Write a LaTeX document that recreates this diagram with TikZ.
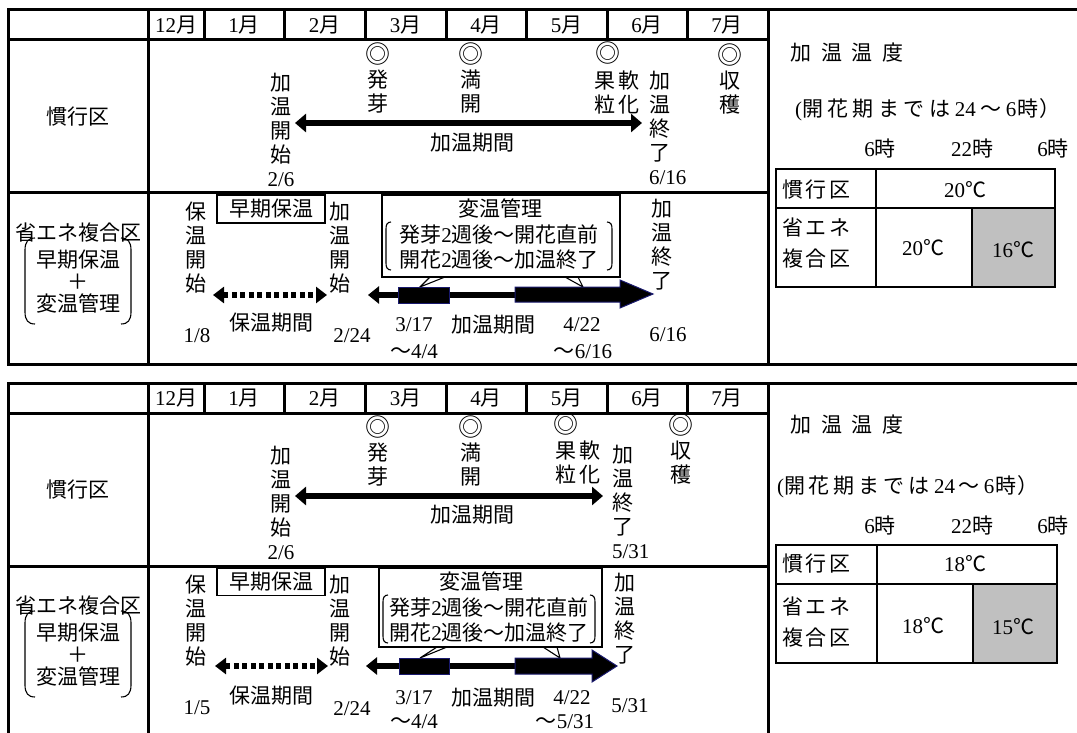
\documentclass[tikz,border=0pt]{standalone}
\usepackage{fontspec}
\setmainfont{Liberation Serif}
\newfontfamily\jp{Noto Sans CJK JP}
\usetikzlibrary{arrows.meta}
\newcommand\lat[1]{{\rmfamily #1}}
\newcommand\dcirc{{\fontsize{25}{24}\selectfont ◎}}
\definecolor{navy}{RGB}{25,25,110}
\definecolor{cellgray}{RGB}{192,192,192}
\tikzset{
  every node/.style={inner sep=0pt, outer sep=0pt},
  txt/.style={font=\fontsize{21}{24}\selectfont\jp, align=center},
  gridline/.style={line width=3pt},
  tblline/.style={line width=2.5pt},
  thinline/.style={line width=1.1pt},
  brk/.style={line width=1.1pt},
  solidarrow/.style={line width=6pt, {Triangle[length=11pt,width=18pt]}-{Triangle[length=11pt,width=18pt]}},
  dotarrow/.style={line width=6pt, dash pattern=on 5pt off 3.5pt, {Triangle[length=11pt,width=16pt]}-{Triangle[length=11pt,width=16pt]}},
  leftarrow/.style={line width=6pt, {Triangle[length=11pt,width=17pt]}-},
  boxbar/.style={fill=black, draw=navy, line width=1pt},
  framebox/.style={draw, line width=1.1pt},
}
\begin{document}
\begin{tikzpicture}[x=1pt, y=-1pt]
\useasboundingbox (0,0) rectangle (1077,733);
\clip (0,0) rectangle (1077,733);
% ================= TOP PANEL =================
\draw[gridline] (8,10) rectangle (768,364);
\draw[gridline] (8,40) -- (768,40) (8,193) -- (768,193) (148,10) -- (148,364);
\foreach \x in {204,284,365,446,526,607,687} {\draw[gridline] (\x,10) -- (\x,40);}
\draw[gridline] (768,10) -- (1077,10) (768,364) -- (1077,364);
\foreach \m/\x in {12/176,1/244,2/324.5,3/405.5,4/486,5/566.5,6/647,7/727}
  {\node[txt] (am\m) at (\x,25) {\lat{\m}月};}
% row 1
\node[txt] (akanko) at (78,117) {慣行区};
\node[txt] (akstart) at (281,130) {加\\温\\開\\始\\\lat{2/6}};
\node[txt] (ahatsuga) at (378,78) {\dcirc\\発\\芽};
\node[txt] (amankai) at (471,78) {\dcirc\\満\\開};
\node[txt] (amark) at (608,53) {\dcirc};
\node[txt] (anan) at (617,92) {果\kern4pt軟\\粒\kern4pt化};
\node[txt, align=left, anchor=west] (akend) at (649,128) {加\\温\\終\\了\\\lat{6/16}};
\node[txt] (ashukaku) at (730,79) {\dcirc\\収\\穫};
\coordinate (aal) at (295,123);
\coordinate (aar) at (642,123);
\draw[solidarrow] (aal) -- (aar);
\node[txt] (akikan) at (472,143) {加温期間};
% row 2
\node[txt] (asho) at (79,233) {省エネ複合区};
\node[txt, font=\fontsize{21}{22}\selectfont\jp] (asub) at (78,282) {早期保温\\＋\\変温管理};
\draw[brk] (35,238) .. controls (28,238) and (25,242) .. (25,250) -- (25,312) .. controls (25,320) and (28,324) .. (35,324);
\draw[brk] (121,238) .. controls (128,238) and (131,242) .. (131,250) -- (131,312) .. controls (131,320) and (128,324) .. (121,324);
\node[txt] (ahstart) at (196,248) {保\\温\\開\\始};
\node[txt, framebox, minimum width=108pt, minimum height=28pt] (asouki) at (271,209) {早期保温};
\node[txt] (akstart2) at (340,248) {加\\温\\開\\始};
\coordinate (adl) at (213,295);
\coordinate (adr) at (327,295);
\draw[dotarrow] (adl) -- (adr);
\node[txt] (ahkikan) at (271,323) {保温期間};
\node[txt] (ad18) at (197,336) {\lat{1/8}};
\node[txt] (ad224) at (352,336) {\lat{2/24}};
\node[framebox, minimum width=238pt, minimum height=82pt] (abox) at (501,236) {};
\node[txt] (ahenon) at (500,208) {変温管理};
\node[txt] (aline1) at (499,235) {発芽\lat{2}週後～開花直前};
\node[txt] (aline2) at (499,260) {開花\lat{2}週後～加温終了};
\draw[brk] (391,222) .. controls (387,222) and (386,225) .. (386,229) -- (386,263) .. controls (386,267) and (387,270) .. (391,270);
\draw[brk] (607,222) .. controls (611,222) and (612,225) .. (612,229) -- (612,263) .. controls (612,267) and (611,270) .. (607,270);
\coordinate (ap1) at (420,287);
\coordinate (ap2) at (583,287);
\draw[thinline] (430,277) -- (ap1) -- (445,277);
\draw[thinline] (565,277) -- (ap2) -- (578,277);
\coordinate (a2l) at (368,295);
\coordinate (a2r) at (620,295);
\draw[leftarrow] (a2l) -- (a2r);
\filldraw[boxbar] (398,287) rectangle (449,303);
\filldraw[boxbar] (515,287) -- (620,287) -- (620,280) -- (653,294) -- (620,308) -- (620,302) -- (515,302) -- cycle;
\node[txt, align=left, anchor=west] (akend2) at (651,245) {加\\温\\終\\了};
\node[txt] (ad317) at (414,325) {\lat{3/17}};
\node[txt] (akikan2) at (493,325) {加温期間};
\node[txt] (ad422) at (582,325) {\lat{4/22}};
\node[txt] (ad44) at (414,352) {～\lat{4/4}};
\node[txt] (ad616) at (583,352) {～\lat{6/16}};
\node[txt] (ae616) at (668,335) {\lat{6/16}};
% right panel
\node[txt, anchor=west] (akaon) at (790,53) {加\kern10pt温\kern10pt温\kern10pt度};
\node[txt, anchor=west] (ajoken) at (795,110) {\lat{(}開\kern4.5pt花\kern4.5pt期\kern4.5pt ま\kern4.5pt で\kern4.5pt は\kern4.5pt\lat{24}\kern4.5pt～\kern4.5pt\lat{6}\kern1pt時\kern1pt）};
\node[txt] (at6a) at (880,148) {\lat{6}時};
\node[txt] (at22) at (972,148) {\lat{22}時};
\node[txt] (at6b) at (1053,148) {\lat{6}時};
\fill[cellgray] (972,208) rectangle (1055,287);
\draw[tblline] (776,169) rectangle (1055,287);
\draw[tblline] (776,208) -- (1055,208) (876,169) -- (876,287) (972,208) -- (972,287);
\node[txt, anchor=west] (atk) at (782,190) {慣\kern2.5pt行\kern2.5pt区};
\node[txt] (at20) at (965,190) {\lat{20}℃};
\node[txt, anchor=west, align=left, font=\fontsize{21}{31}\selectfont\jp] (ats) at (782,243) {省\kern2.5ptエ\kern2.5ptネ\\複\kern2.5pt合\kern2.5pt区};
\node[txt] (at20b) at (923,248) {\lat{20}℃};
\node[txt] (at16) at (1013,250) {\lat{16}℃};
% ================= BOTTOM PANEL =================
\begin{scope}[shift={(0,373)}]
\draw[gridline] (8,375) -- (8,10) -- (768,10) -- (768,375);
\draw[gridline] (8,40) -- (768,40) (8,193) -- (768,193) (148,10) -- (148,375);
\foreach \x in {204,284,365,446,526,607,687} {\draw[gridline] (\x,10) -- (\x,40);}
\draw[gridline] (768,10) -- (1077,10);
\foreach \m/\x in {12/176,1/244,2/324.5,3/405.5,4/486,5/566.5,6/647,7/727}
  {\node[txt] (bm\m) at (\x,25) {\lat{\m}月};}
% row 1
\node[txt] (bkanko) at (78,117) {慣行区};
\node[txt] (bkstart) at (281,130) {加\\温\\開\\始\\\lat{2/6}};
\node[txt] (bhatsuga) at (378,78) {\dcirc\\発\\芽};
\node[txt] (bmankai) at (471,78) {\dcirc\\満\\開};
\node[txt] (bmark) at (566,51) {\dcirc};
\node[txt] (bnan) at (578,89) {果\kern3pt軟\\粒\kern3pt化};
\node[txt, align=left, anchor=west] (bkend) at (612,129) {加\\温\\終\\了\\\lat{5/31}};
\node[txt] (bshukaku) at (681,76) {\dcirc\\収\\穫};
\coordinate (bal) at (295,123);
\coordinate (bar) at (603,123);
\draw[solidarrow] (bal) -- (bar);
\node[txt] (bkikan) at (472,142) {加温期間};
% row 2
\node[txt] (bsho) at (79,233) {省エネ複合区};
\node[txt, font=\fontsize{21}{22}\selectfont\jp] (bsub) at (78,282) {早期保温\\＋\\変温管理};
\draw[brk] (35,238) .. controls (28,238) and (25,242) .. (25,250) -- (25,312) .. controls (25,320) and (28,324) .. (35,324);
\draw[brk] (121,238) .. controls (128,238) and (131,242) .. (131,250) -- (131,312) .. controls (131,320) and (128,324) .. (121,324);
\node[txt] (bhstart) at (196,248) {保\\温\\開\\始};
\node[txt, framebox, minimum width=108pt, minimum height=27pt] (bsouki) at (271,209) {早期保温};
\node[txt] (bkstart2) at (340,248) {加\\温\\開\\始};
\coordinate (bdl) at (215,293);
\coordinate (bdr) at (328,293);
\draw[dotarrow] (bdl) -- (bdr);
\node[txt] (bhkikan) at (271,323) {保温期間};
\node[txt] (bd15) at (197,335) {\lat{1/5}};
\node[txt] (bd224) at (352,336) {\lat{2/24}};
\node[framebox, minimum width=223pt, minimum height=79pt] (bbox) at (490.5,234.5) {};
\node[txt] (bhenon) at (481,208) {変温管理};
\node[txt] (bline1) at (489,235) {発芽\lat{2}週後～開花直前};
\node[txt] (bline2) at (489,260) {開花\lat{2}週後～加温終了};
\draw[brk] (388,222) .. controls (384,222) and (383,225) .. (383,229) -- (383,263) .. controls (383,267) and (384,270) .. (388,270);
\draw[brk] (590,222) .. controls (594,222) and (595,225) .. (595,229) -- (595,263) .. controls (595,267) and (594,270) .. (590,270);
\coordinate (bp1) at (420,285);
\coordinate (bp2) at (560,285);
\draw[thinline] (437,274) -- (bp1) -- (447,274);
\draw[thinline] (543,274) -- (bp2) -- (557,274);
\coordinate (b2l) at (366,293);
\coordinate (b2r) at (592,293);
\draw[leftarrow] (b2l) -- (b2r);
\filldraw[boxbar] (399,285) rectangle (449,301);
\filldraw[boxbar] (515,285) -- (592,285) -- (592,277) -- (617,293) -- (592,309) -- (592,301) -- (515,301) -- cycle;
\node[txt, align=left, anchor=west] (bkend2) at (614,246) {加\\温\\終\\了};
\node[txt] (bd317) at (414,325) {\lat{3/17}};
\node[txt] (bkikan2) at (493,325) {加温期間};
\node[txt] (bd422) at (572,325) {\lat{4/22}};
\node[txt] (bd44) at (414,349) {～\lat{4/4}};
\node[txt] (bd531) at (565,349) {～\lat{5/31}};
\node[txt] (be531) at (630,333) {\lat{5/31}};
% right panel
\node[txt, anchor=west] (bkaon) at (790,52) {加\kern10pt温\kern10pt温\kern10pt度};
\node[txt, anchor=west] (bjoken) at (777,114) {\lat{(}開\kern4pt花\kern4pt期\kern4pt ま\kern4pt で\kern4pt は\kern4pt\lat{24}\kern4pt～\kern4pt\lat{6}\kern1pt時\kern1pt）};
\node[txt] (bt6a) at (880,152) {\lat{6}時};
\node[txt] (bt22) at (972,152) {\lat{22}時};
\node[txt] (bt6b) at (1053,152) {\lat{6}時};
\fill[cellgray] (973,211) rectangle (1057,290);
\draw[tblline] (776,172) rectangle (1057,290);
\draw[tblline] (776,211) -- (1057,211) (877,172) -- (877,290) (973,211) -- (973,290);
\node[txt, anchor=west] (btk) at (782,191) {慣\kern2.5pt行\kern2.5pt区};
\node[txt] (bt18) at (965,191) {\lat{18}℃};
\node[txt, anchor=west, align=left, font=\fontsize{21}{31}\selectfont\jp] (bts) at (782,249) {省\kern2.5ptエ\kern2.5ptネ\\複\kern2.5pt合\kern2.5pt区};
\node[txt] (bt18b) at (923,253) {\lat{18}℃};
\node[txt] (bt15) at (1013,254) {\lat{15}℃};
\end{scope}
\end{tikzpicture}
\end{document}
